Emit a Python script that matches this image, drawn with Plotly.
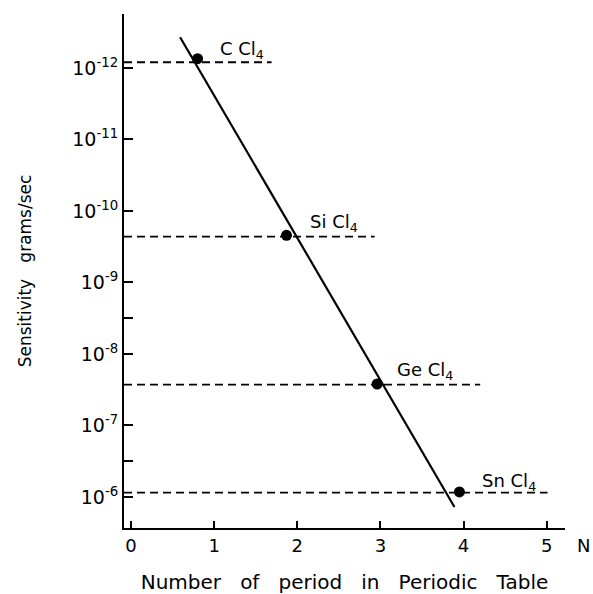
import plotly.graph_objects as go
import numpy as np

# Data
compounds = ["C Cl<sub>4</sub>", "Si Cl<sub>4</sub>", "Ge Cl<sub>4</sub>", "Sn Cl<sub>4</sub>"]
period_n = [0.80, 1.87, 2.96, 3.95]
sensitivity = [10**-12.13, 10**-9.66, 10**-7.58, 10**-6.07]
guide_sens = [10**-12.08, 10**-9.64, 10**-7.57, 10**-6.06]
guide_end = [1.69, 2.93, 4.2, 5.01]

fit_n = [0.59, 3.89]
fit_sens = [10**-12.43, 10**-5.86]

x_ticks = [0, 1, 2, 3, 4, 5]
y_exps = [-12, -11, -10, -9, -8, -7, -6]
y_minor = [-8.5, -6.5]

FONT = "DejaVu Sans"
SP = "\u00a0"
x_left = -0.085

fig = go.Figure()

# dashed guide lines
for yv, xe in zip(guide_sens, guide_end):
    fig.add_trace(go.Scatter(x=[x_left, xe], y=[yv, yv], mode="lines",
                             line=dict(color="black", width=1.8, dash="8px,5px"),
                             showlegend=False, hoverinfo="skip", cliponaxis=False))

# fitted line
fig.add_trace(go.Scatter(x=fit_n, y=fit_sens, mode="lines",
                         line=dict(color="black", width=2.2), showlegend=False,
                         cliponaxis=False))

# data points
fig.add_trace(go.Scatter(x=period_n, y=sensitivity, mode="markers",
                         marker=dict(color="black", size=11), showlegend=False,
                         cliponaxis=False))

# labels
label_dx = [0.53, 0.57, 0.57, 0.60]
label_dy = [0.12, 0.17, 0.18, 0.14]
for name, xv, yv, dx, dy in zip(compounds, period_n, sensitivity, label_dx, label_dy):
    fig.add_annotation(x=xv + dx, y=np.log10(yv) - dy, xref="x", yref="y",
                       text=name, showarrow=False,
                       font=dict(family=FONT, size=18, color="black"))

# axis end label "N" (outside the plotting area, so paper coordinates)
fig.add_annotation(x=1.043, y=-0.035, xref="paper", yref="paper", text="N",
                   xanchor="center", yanchor="middle",
                   showarrow=False, font=dict(family=FONT, size=18, color="black"))

tickvals = [10**e for e in y_exps] + [10**e for e in y_minor]
ticktext = [f"10<sup>{e}</sup>" for e in y_exps] + ["" for _ in y_minor]

xtitle = (SP * 3).join("Number of period in Periodic Table".split(" "))
ytitle = "Sensitivity" + SP * 3 + "grams/sec"

fig.update_layout(
    width=593, height=594,
    margin=dict(l=124, r=28, t=14, b=66),
    plot_bgcolor="white", paper_bgcolor="white",
    font=dict(family=FONT, color="black"),
    xaxis=dict(range=[x_left, 5.22], tickvals=x_ticks, ticks="inside", ticklen=7,
               tickwidth=1.5, tickcolor="black", showline=True, linecolor="black",
               linewidth=2, showgrid=False, zeroline=False, automargin=False,
               tickfont=dict(family=FONT, size=18, color="black"),
               title=dict(text=xtitle,
                          font=dict(family=FONT, size=20, color="black"), standoff=20)),
    yaxis=dict(type="log", range=[-5.566, -12.755], tickvals=tickvals, ticktext=ticktext,
               ticks="inside", ticklen=9, tickwidth=1.5, tickcolor="black",
               showline=True, linecolor="black", linewidth=2, showgrid=False,
               zeroline=False, tickfont=dict(family=FONT, size=19, color="black"),
               title=dict(text=ytitle,
                          font=dict(family=FONT, size=17, color="black"), standoff=36)),
)

fig.write_html("out.html")
